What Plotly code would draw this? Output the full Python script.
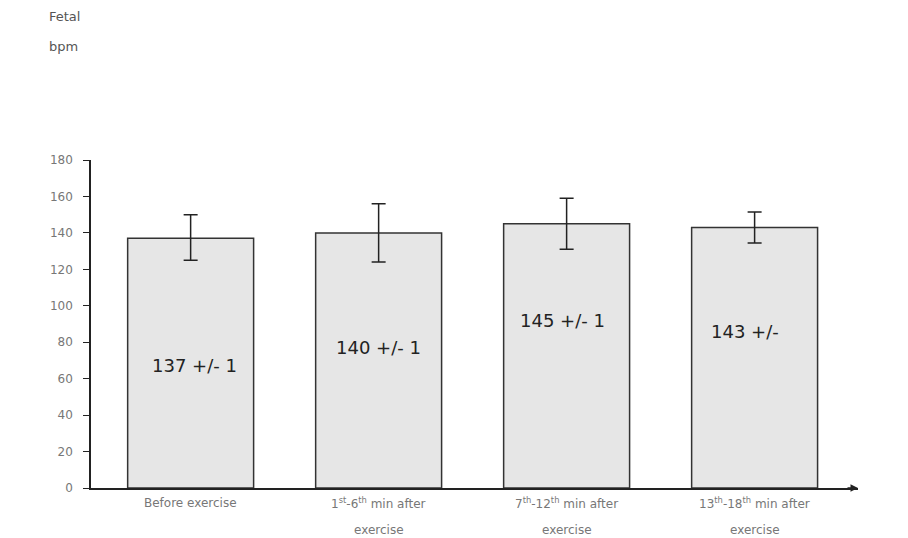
import plotly.graph_objects as go

cat_line1 = ["Before exercise",
             "1<sup>st</sup>-6<sup>th</sup> min after",
             "7<sup>th</sup>-12<sup>th</sup> min after",
             "13<sup>th</sup>-18<sup>th</sup> min after"]
cat_line2 = ["", "exercise", "exercise", "exercise"]
means = [137, 140, 145, 143]
err_plus = [13, 16, 14, 8.5]
err_minus = [12, 16, 14, 8.5]
bar_labels = ["137 +/- 1", "140 +/- 1", "145 +/- 1", "143 +/-"]
label_y = [67, 77, 92, 86]
label_dx = [0.02, 0.0, -0.02, -0.05]
tick_vals = [0, 20, 40, 60, 80, 100, 120, 140, 160, 180]

x = list(range(len(means)))
FONT = "DejaVu Sans, Arial"

fig = go.Figure()
fig.add_trace(go.Bar(
    x=x, y=means, width=0.67,
    marker=dict(color="#e6e6e6", line=dict(color="#333", width=1.5)),
    error_y=dict(type="data", array=err_plus, arrayminus=err_minus,
                 color="#222", thickness=1.5, width=7),
    showlegend=False,
))

for i, (t, yy, dx) in enumerate(zip(bar_labels, label_y, label_dx)):
    fig.add_annotation(x=x[i] + dx, y=yy, text=t, showarrow=False,
                       font=dict(family=FONT, size=18, color="#222"))

for i in x:
    fig.add_annotation(x=x[i], y=0, yref="y", text=cat_line1[i], showarrow=False,
                       yshift=-15, font=dict(family=FONT, size=12, color="#777"))
    if cat_line2[i]:
        fig.add_annotation(x=x[i], y=0, yref="y", text=cat_line2[i], showarrow=False,
                           yshift=-42, font=dict(family=FONT, size=12, color="#777"))

fig.add_annotation(xref="paper", yref="paper", x=-0.057, y=1.466, text="Fetal",
                   showarrow=False, font=dict(family=FONT, size=13, color="#555"),
                   xanchor="left")
fig.add_annotation(xref="paper", yref="paper", x=-0.057, y=1.376, text="bpm",
                   showarrow=False, font=dict(family=FONT, size=13, color="#555"),
                   xanchor="left")

# arrow head at the end of the x axis
fig.add_annotation(xref="paper", yref="y", x=1.0, y=0, ax=-12, ay=0, text="",
                   showarrow=True, arrowhead=2, arrowsize=1, arrowwidth=1.5, arrowcolor="#222")

fig.update_layout(
    width=908, height=538,
    margin=dict(l=83, r=58, t=152, b=58),
    plot_bgcolor="white", paper_bgcolor="white",
    font=dict(family=FONT, size=12, color="#666"),
    xaxis=dict(range=[-0.53, 3.55], tickvals=x, showticklabels=False,
               showline=True, linecolor="#222", linewidth=1.5, ticks="",
               showgrid=False, zeroline=False),
    yaxis=dict(range=[0, 180], tickvals=tick_vals, showline=True, linecolor="#222",
               linewidth=1.5, ticks="outside", ticklen=6, tickcolor="#222",
               ticklabelstandoff=8,
               showgrid=False, zeroline=False, tickfont=dict(family=FONT, size=12, color="#777")),
)

fig.write_html("out.html")
